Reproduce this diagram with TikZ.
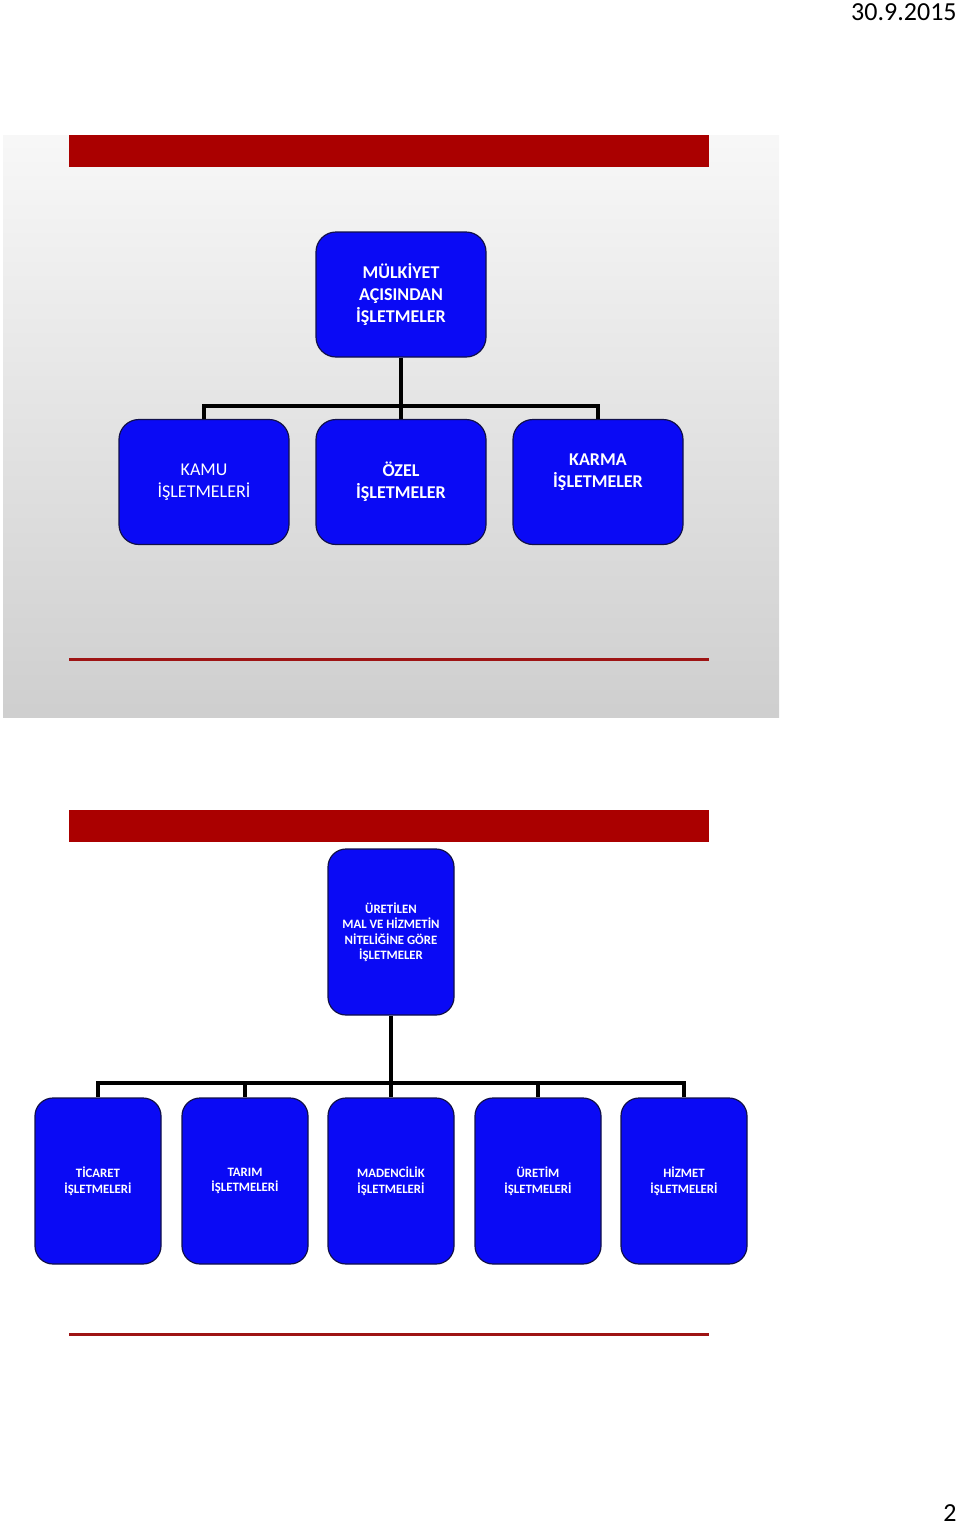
\documentclass[tikz,border=0pt]{standalone}
\usepackage{fontspec}
\setmainfont{Carlito}
\usepackage{xcolor}
\usepackage{tikz}
\usetikzlibrary{positioning,calc}
\definecolor{kirmizi}{HTML}{AA0000}
\definecolor{cizgikirmizi}{HTML}{9E1414}
\definecolor{kutumavi}{HTML}{0A0AF5}
\definecolor{kenar}{HTML}{10104A}
\tikzset{
    kutu/.style={
        rectangle,
        draw=kenar,
        line width=0.6pt,
        fill=kutumavi,
        text=white,
        align=center,
        rounded corners=10pt,
        inner sep=0pt
    },
    buyukkutu/.style={kutu, minimum width=85pt, minimum height=62.5pt,
        font=\fontsize{9}{11}\selectfont},
    kucukkutu/.style={kutu, minimum width=63pt, minimum height=83pt,
        rounded corners=9pt, font=\fontsize{6.4}{7.75}\selectfont\bfseries},
    baglanti/.style={line width=2pt, draw=black},
    baslikbandi/.style={fill=kirmizi, draw=none},
    altcizgi/.style={draw=cizgikirmizi, line width=1.5pt},
    kenaryazi/.style={anchor=base east, inner sep=0pt, font=\fontsize{13}{15}\selectfont}
}

\begin{document}
\begin{tikzpicture}[x=0.5pt, y=-0.5pt]
    \useasboundingbox (0,0) rectangle (960,1527);
    % ilk slayt zemini
    \shade[top color=white!97!black, bottom color=black!19] (3,135) rectangle (779,717);
    \fill[baslikbandi] (69,135) rectangle (709,167);
    \draw[altcizgi] (69,659) -- (709,659);
    % ikinci slayt
    \fill[baslikbandi] (69,810) rectangle (709,842);
    \draw[altcizgi] (69,1334) -- (709,1334);

    \node[kenaryazi] (tarih) at (957,20) {30.9.2015};
    \node[kenaryazi] (sayfa) at (957,1521) {2};

    % mulkiyet agaci
    \node[buyukkutu, font=\fontsize{9}{11}\selectfont\bfseries] (mulkiyet) at (401,294.5)
        {MÜLKİYET\\AÇISINDAN\\İŞLETMELER};
    \node[buyukkutu] (kamu) at (204,482)
        {KAMU\\İŞLETMELERİ};
    \node[buyukkutu, font=\fontsize{9}{11}\selectfont\bfseries] (ozel) at (401,482)
        {ÖZEL\\İŞLETMELER};
    \node[buyukkutu, font=\fontsize{9}{11}\selectfont\bfseries] (karma) at (598,482)
        {KARMA\\İŞLETMELER\\\mbox{}};
    \coordinate (ayrim1) at (401,406);
    \draw[baglanti] (mulkiyet.south) -- (ayrim1);
    \draw[baglanti] (ayrim1) -| (kamu.north);
    \draw[baglanti] (ayrim1) -- (ozel.north);
    \draw[baglanti] (ayrim1) -| (karma.north);

    % nitelik agaci
    \node[kucukkutu] (nitelik) at (391,932)
        {ÜRETİLEN\\MAL VE HİZMETİN\\NİTELİĞİNE GÖRE\\İŞLETMELER};
    \node[kucukkutu] (ticaret) at (98,1181) {TİCARET\\İŞLETMELERİ};
    \node[kucukkutu] (tarim) at (245,1181) {TARIM\\İŞLETMELERİ};
    \node[kucukkutu] (maden) at (391,1181) {MADENCİLİK\\İŞLETMELERİ};
    \node[kucukkutu] (uretim) at (538,1181) {ÜRETİM\\İŞLETMELERİ};
    \node[kucukkutu] (hizmet) at (684,1181) {HİZMET\\İŞLETMELERİ};
    \coordinate (ayrim2) at (391,1083);
    \draw[baglanti] (nitelik.south) -- (ayrim2);
    \foreach \k in {ticaret,tarim,maden,uretim,hizmet}
        \draw[baglanti] (ayrim2) -| (\k.north);
\end{tikzpicture}
\end{document}
